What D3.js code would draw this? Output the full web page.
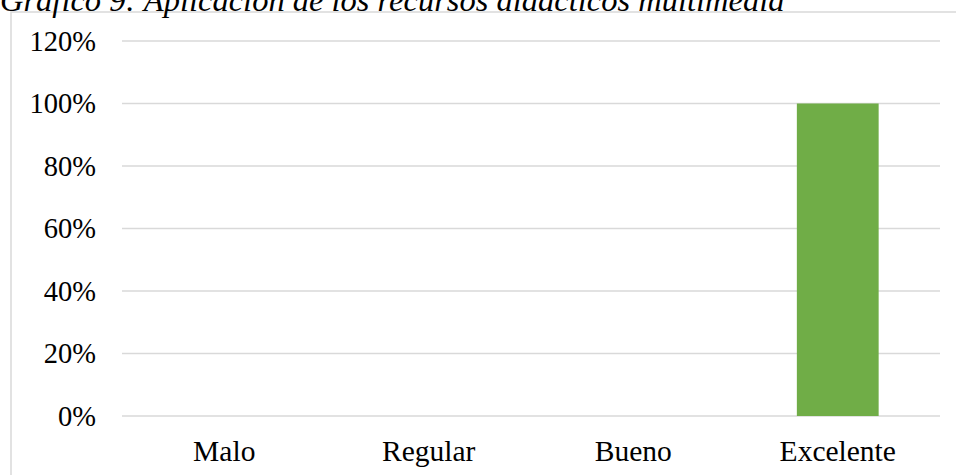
<!DOCTYPE html>
<html>
<head>
<meta charset="utf-8">
<script src="https://cdn.jsdelivr.net/npm/d3@7"></script>
<style>
  html, body { margin: 0; padding: 0; background: #fff; overflow: hidden; }
  svg { display: block; }
</style>
</head>
<body>
<script>
// Chart data
const categories = ["Malo", "Regular", "Bueno", "Excelente"];
const values = [0, 0, 0, 1.0];
const yTicks = [0, 0.2, 0.4, 0.6, 0.8, 1.0, 1.2];
const title = "Gráfico 9: Aplicación de los recursos didácticos multimedia";

const W = 956, H = 475;
const plot = { left: 122, right: 940, top: 41, bottom: 416 };
const serif = "'Liberation Serif', 'Times New Roman', serif";

const svg = d3.select("body").append("svg")
  .attr("width", W).attr("height", H);

// Chart frame
svg.append("rect")
  .attr("x", 11).attr("y", 12)
  .attr("width", 1000).attr("height", 600)
  .attr("fill", "none")
  .attr("stroke", "#d9d9d9")
  .attr("stroke-width", 1.5);

// Caption above the frame
svg.append("text")
  .attr("x", 0).attr("y", 11)
  .attr("font-family", serif)
  .attr("font-style", "italic")
  .attr("font-size", 32.5)
  .attr("fill", "#000")
  .text(title);

const x = d3.scaleBand()
  .domain(categories)
  .range([plot.left, plot.right])
  .paddingInner(0.6)
  .paddingOuter(0.3);

const y = d3.scaleLinear()
  .domain([0, 1.2])
  .range([plot.bottom, plot.top]);

// Horizontal gridlines
svg.append("g")
  .selectAll("line")
  .data(yTicks)
  .join("line")
  .attr("x1", plot.left).attr("x2", plot.right)
  .attr("y1", d => y(d)).attr("y2", d => y(d))
  .attr("stroke", "#d9d9d9")
  .attr("stroke-width", 1.5);

// Y axis labels
const yAxis = d3.axisLeft(y)
  .tickValues(yTicks)
  .tickFormat(d3.format(".0%"))
  .tickSize(0)
  .tickPadding(26);
const gy = svg.append("g")
  .attr("transform", `translate(${plot.left},0)`)
  .call(yAxis);
gy.select(".domain").remove();
gy.selectAll("text")
  .attr("font-family", serif)
  .attr("font-size", 28.5)
  .attr("fill", "#000");

// Bars
svg.append("g")
  .selectAll("rect")
  .data(categories.map((c, i) => ({ c, v: values[i] })))
  .join("rect")
  .attr("x", d => x(d.c))
  .attr("width", x.bandwidth())
  .attr("y", d => y(d.v))
  .attr("height", d => y(0) - y(d.v))
  .attr("fill", "#70ad47");

// X axis labels
const xAxis = d3.axisBottom(x).tickSize(0).tickPadding(24);
const gx = svg.append("g")
  .attr("transform", `translate(0,${plot.bottom})`)
  .call(xAxis);
gx.select(".domain").remove();
gx.selectAll("text")
  .attr("font-family", serif)
  .attr("font-size", 29.5)
  .attr("fill", "#000");
</script>
</body>
</html>
